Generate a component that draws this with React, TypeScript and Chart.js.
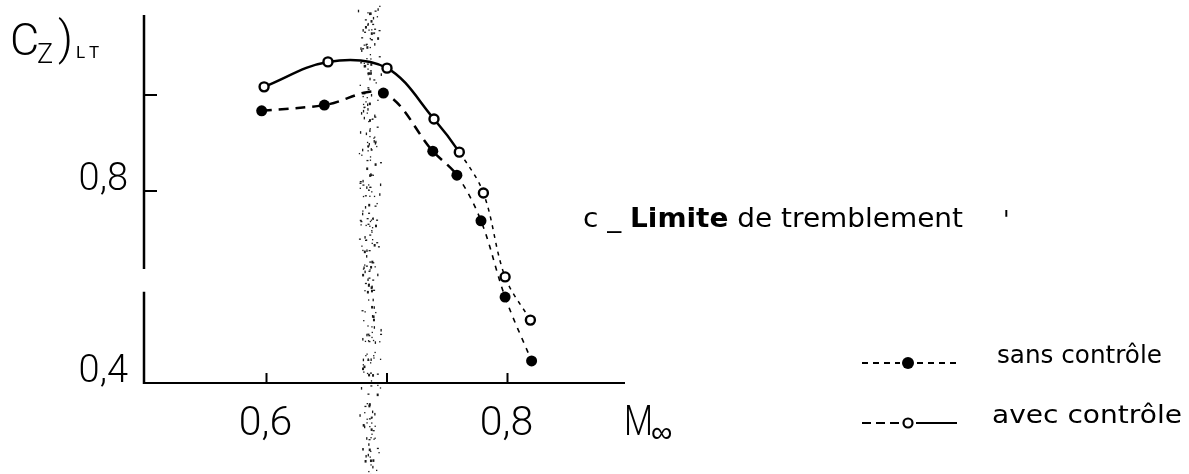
import { useEffect, useRef } from "react";
import { Chart, registerables } from "chart.js";

Chart.register(...registerables);

// Lift coefficient at buffet onset versus free-stream Mach number
const machSans = [0.596, 0.648, 0.697, 0.738, 0.758, 0.778, 0.798, 0.82];
const czSans = [0.967, 0.979, 1.004, 0.883, 0.833, 0.738, 0.579, 0.446];
const machAvec = [0.598, 0.651, 0.7, 0.739, 0.76, 0.78, 0.798, 0.819];
const czAvec = [1.017, 1.069, 1.056, 0.95, 0.881, 0.796, 0.621, 0.531];

const xTickValues = [0.6, 0.7, 0.8];
const xTickLabels = ["0,6", "", "0,8"];
const yTickValues = [0.4, 0.8, 1.0];
const yTickLabels = ["0,4", "0,8", ""];

const seriesNames = ["sans contrôle", "avec contrôle"];
const noteText = ["c _ ", "Limite", " de tremblement"];
const shadedMach = 0.6855;

const NUM_FONT = "Roboto, 'DejaVu Sans', sans-serif";
const TXT_FONT = "'DejaVu Sans', sans-serif";

function mulberry32(a: number) {
  return () => {
    a |= 0;
    a = (a + 0x6d2b79f5) | 0;
    let t = Math.imul(a ^ (a >>> 15), 1 | a);
    t = (t + Math.imul(t ^ (t >>> 7), 61 | t)) ^ t;
    return ((t ^ (t >>> 14)) >>> 0) / 4294967296;
  };
}

// draw a list of text runs fitted to a target width
function drawRuns(
  ctx: CanvasRenderingContext2D,
  runs: { text: string; font: string }[],
  x: number,
  y: number,
  width: number
) {
  let total = 0;
  for (const r of runs) {
    ctx.font = r.font;
    total += ctx.measureText(r.text).width;
  }
  const k = width / total;
  ctx.save();
  ctx.translate(x, y);
  ctx.scale(k, 1);
  let cx = 0;
  ctx.textAlign = "left";
  ctx.textBaseline = "alphabetic";
  for (const r of runs) {
    ctx.font = r.font;
    ctx.fillText(r.text, cx, 0);
    cx += ctx.measureText(r.text).width;
  }
  ctx.restore();
}

const paperPlugin = {
  id: "paper",
  beforeDraw(chart: any) {
    const { ctx, width, height } = chart;
    ctx.save();
    ctx.fillStyle = "#ffffff";
    ctx.fillRect(0, 0, width, height);
    // stippled vertical band
    const cx = chart.scales.x.getPixelForValue(shadedMach);
    const rnd = mulberry32(20240611);
    ctx.fillStyle = "#1a1a1a";
    for (let i = 0; i < 300; i++) {
      const y = 3 + rnd() * (height - 3);
      const off = ((rnd() + rnd()) / 2 - 0.5) * 2 * 12;
      const w = rnd() < 0.35 ? 2 : 1.3;
      const h = rnd() < 0.35 ? 2.6 : 1.3;
      ctx.fillRect(cx + off, y, w, h);
    }
    ctx.restore();
  },
  afterDraw(chart: any) {
    const { ctx } = chart;
    const xs = chart.scales.x;
    const ys = chart.scales.y;
    const left = xs.getPixelForValue(xs.min);
    const right = xs.getPixelForValue(xs.max);
    const top = ys.getPixelForValue(ys.max);
    const bottom = ys.getPixelForValue(ys.min);
    ctx.save();
    ctx.strokeStyle = "#000";
    ctx.fillStyle = "#000";
    ctx.lineCap = "butt";

    // axes (the vertical one has a break)
    ctx.lineWidth = 2.5;
    ctx.beginPath();
    ctx.moveTo(left - 2, top);
    ctx.lineTo(left - 2, ys.getPixelForValue(0.6375));
    ctx.moveTo(left - 2, ys.getPixelForValue(0.59));
    ctx.lineTo(left - 2, bottom + 1);
    ctx.stroke();
    ctx.lineWidth = 2;
    ctx.beginPath();
    ctx.moveTo(left - 3, bottom);
    ctx.lineTo(right - 3, bottom);
    ctx.stroke();

    // inward tick marks and labels
    ctx.lineWidth = 2;
    ctx.font = `300 38px ${NUM_FONT}`;
    ctx.textAlign = "right";
    ctx.textBaseline = "alphabetic";
    yTickValues.forEach((v, i) => {
      const py = ys.getPixelForValue(v);
      if (v > ys.min) {
        ctx.beginPath();
        ctx.moveTo(left - 2, py);
        ctx.lineTo(left + 11, py);
        ctx.stroke();
      }
      if (yTickLabels[i]) ctx.fillText(yTickLabels[i], left - 18, py - 1);
    });
    ctx.font = `300 41px ${NUM_FONT}`;
    ctx.textAlign = "center";
    xTickValues.forEach((v, i) => {
      const px = xs.getPixelForValue(v);
      ctx.beginPath();
      ctx.moveTo(px, bottom);
      ctx.lineTo(px, bottom - 10);
      ctx.stroke();
      if (xTickLabels[i]) ctx.fillText(xTickLabels[i], px - 1, bottom + 52);
    });

    // axis titles
    ctx.textAlign = "left";
    ctx.font = `300 45px ${NUM_FONT}`;
    ctx.fillText("C", 10, 55);
    ctx.font = `300 27px ${NUM_FONT}`;
    ctx.fillText("Z", 37, 63);
    ctx.font = `300 46px ${NUM_FONT}`;
    ctx.fillText(")", 58, 54);
    ctx.font = `400 17px ${NUM_FONT}`;
    ctx.fillText("L", 76, 58);
    ctx.fillText("T", 89, 58);
    drawRuns(ctx, [{ text: "M", font: `300 42px ${NUM_FONT}` }], 624, 435, 29);
    ctx.font = `300 30px 'DejaVu Sans', sans-serif`;
    ctx.fillText("∞", 651, 442);

    // note
    drawRuns(
      ctx,
      [
        { text: noteText[0], font: `400 26px ${TXT_FONT}` },
        { text: noteText[1], font: `700 26px ${TXT_FONT}` },
        { text: noteText[2], font: `400 26px ${TXT_FONT}` },
      ],
      583,
      227,
      380
    );
    ctx.font = `400 24px ${TXT_FONT}`;
    ctx.fillText("'", 1003, 228);

    // legend
    const lx0 = 862;
    const lx1 = 957;
    const mx = 908;
    const rowY = [363, 423];
    ctx.lineWidth = 2;
    ctx.setLineDash([6, 5]);
    ctx.beginPath();
    ctx.moveTo(lx0, rowY[0]);
    ctx.lineTo(mx - 8, rowY[0]);
    ctx.moveTo(mx + 9, rowY[0]);
    ctx.lineTo(lx1, rowY[0]);
    ctx.stroke();
    ctx.setLineDash([]);
    ctx.beginPath();
    ctx.arc(mx, rowY[0], 6, 0, Math.PI * 2);
    ctx.fill();

    ctx.setLineDash([9, 5]);
    ctx.beginPath();
    ctx.moveTo(lx0, rowY[1]);
    ctx.lineTo(mx - 8, rowY[1]);
    ctx.stroke();
    ctx.setLineDash([]);
    ctx.beginPath();
    ctx.moveTo(mx + 8, rowY[1]);
    ctx.lineTo(lx1, rowY[1]);
    ctx.stroke();
    ctx.lineWidth = 2.2;
    ctx.beginPath();
    ctx.arc(mx, rowY[1], 4.5, 0, Math.PI * 2);
    ctx.stroke();

    drawRuns(ctx, [{ text: seriesNames[0], font: `400 25px ${TXT_FONT}` }], 997, rowY[0], 165);
    drawRuns(ctx, [{ text: seriesNames[1], font: `400 25px ${TXT_FONT}` }], 992, rowY[1], 190);
    ctx.restore();
  },
};

export default function App() {
  const ref = useRef<HTMLCanvasElement | null>(null);

  useEffect(() => {
    if (!ref.current) return;
    const chart = new Chart(ref.current, {
      type: "line",
      data: {
        datasets: [
          {
            label: seriesNames[0],
            data: machSans.map((m, i) => ({ x: m, y: czSans[i] })),
            borderColor: "#000",
            borderWidth: 2.5,
            borderDash: [10, 7],
            tension: 0.35,
            pointRadius: 5.5,
            pointBackgroundColor: "#000",
            pointBorderColor: "#000",
            pointBorderWidth: 0,
            segment: {
              borderDash: (c: any) => (c.p0DataIndex >= 4 ? [5, 6] : [10, 7]),
              borderWidth: (c: any) => (c.p0DataIndex >= 4 ? 1.6 : 2.5),
            },
          },
          {
            label: seriesNames[1],
            data: machAvec.map((m, i) => ({ x: m, y: czAvec[i] })),
            borderColor: "#000",
            borderWidth: 2.5,
            tension: 0.35,
            pointRadius: 4.5,
            pointBackgroundColor: "#fff",
            pointBorderColor: "#000",
            pointBorderWidth: 2.4,
            segment: {
              borderDash: (c: any) => (c.p0DataIndex >= 4 ? [4, 5] : []),
              borderWidth: (c: any) => (c.p0DataIndex >= 4 ? 1.5 : 2.5),
            },
          },
        ],
      },
      options: {
        animation: false,
        responsive: false,
        devicePixelRatio: 1,
        layout: { padding: { left: 146, right: 561, top: 15, bottom: 91 } },
        plugins: { legend: { display: false }, tooltip: { enabled: false } },
        scales: {
          x: { type: "linear", min: 0.5, max: 0.9, display: false },
          y: { type: "linear", min: 0.4, max: 1.1667, display: false },
        },
      },
      plugins: [paperPlugin],
    });
    return () => chart.destroy();
  }, []);

  return (
    <div style={{ position: "fixed", left: 0, top: 0, width: 1189, height: 474, background: "#fff" }}>
      <canvas ref={ref} width={1189} height={474} />
    </div>
  );
}
